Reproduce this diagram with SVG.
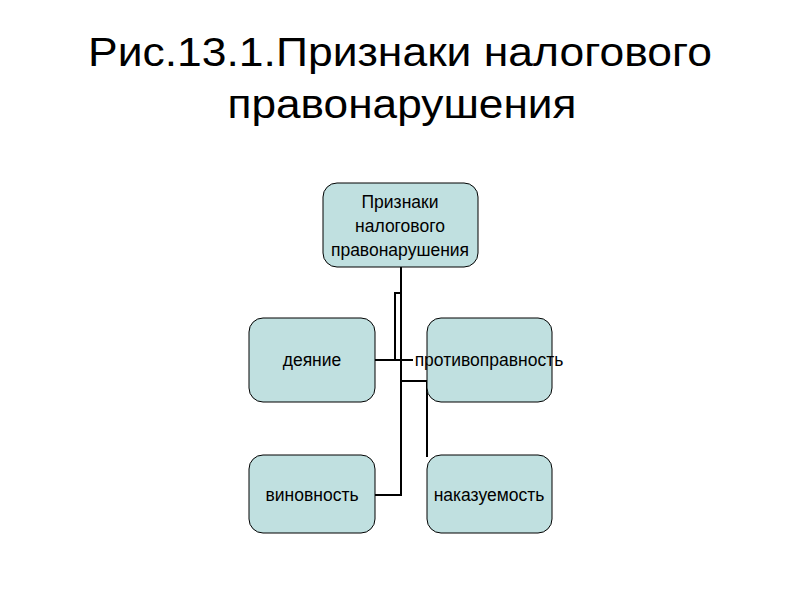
<svg xmlns="http://www.w3.org/2000/svg" width="800" height="600" viewBox="0 0 800 600">
<style>
.b{fill:#c0e0e0;stroke:#000;stroke-width:1}
.t{font-family:"Liberation Sans",Arial,sans-serif;font-size:17.5px;fill:#000;text-anchor:middle}
.h{font-family:"Liberation Sans",Arial,sans-serif;font-size:41px;fill:#000;text-anchor:middle}
.c{fill:none;stroke:#000;stroke-width:2}
</style>
<rect width="800" height="600" fill="#fff"/>
<text class="h" x="400" y="66" textLength="624" lengthAdjust="spacingAndGlyphs">Рис.13.1.Признаки налогового</text>
<text class="h" x="402" y="118" textLength="349" lengthAdjust="spacingAndGlyphs">правонарушения</text>
<g id="connectors">
<polyline class="c" points="401,267 401,495 375,495"/>
<polyline class="c" points="401,293 395,293 395,360"/>
<line class="c" x1="375" y1="360" x2="413" y2="360"/>
<polyline class="c" points="401,381 427,381 427,457"/>
</g>
<g id="root"><rect class="b" x="323" y="183" width="155" height="84" rx="14"/>
<text class="t" x="400" y="208">Признаки</text><text class="t" x="400" y="232">налогового</text><text class="t" x="400" y="256">правонарушения</text></g>
<g id="n1"><rect class="b" x="249" y="318" width="126" height="84" rx="14"/><text class="t" x="312" y="366">деяние</text></g>
<g id="n2"><rect class="b" x="427" y="318" width="125" height="84" rx="14"/><text class="t" x="489" y="366">противоправность</text></g>
<g id="n3"><rect class="b" x="249" y="455" width="126" height="78" rx="14"/><text class="t" x="312" y="501">виновность</text></g>
<g id="n4"><rect class="b" x="427" y="455" width="125" height="78" rx="14"/><text class="t" x="489" y="501">наказуемость</text></g>
</svg>
